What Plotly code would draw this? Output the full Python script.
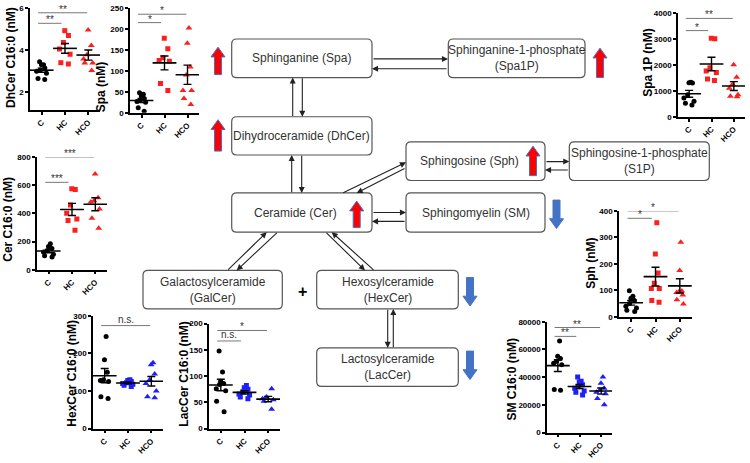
import numpy as np
import plotly.graph_objects as go

W, H = 750, 463
FONT = "Liberation Sans, Arial, sans-serif"
GROUPS = ["C", "HC", "HCO"]

# ── values (nM) ─────────────────────────────────────────────────────────────
dhcer_c   = [3.45, 3.3, 3.3, 3.15, 3.05, 3.0, 2.9, 2.65, 2.6]
dhcer_hc  = [4.92, 4.69, 4.36, 4.05, 3.8, 3.4, 3.34]
dhcer_hco = [4.95, 4.22, 3.78, 3.58, 3.39, 3.39, 3.03]

spa_c   = [48, 44, 40, 34, 30, 27, 25, 12, 4]
spa_hc  = [178, 153, 131, 125, 123, 70, 53]
spa_hco = [202, 166, 109, 90, 53, 53, 34, 20]

spa1p_c   = [1330, 1310, 1300, 850, 720, 600, 520, 450]
spa1p_hc  = [3020, 3000, 1890, 1760, 1700, 1450, 1400]
spa1p_hco = [2000, 1520, 1250, 1100, 850, 790, 770]

cer_c   = [185, 165, 150, 135, 125, 110, 100, 90]
cer_hc  = [575, 570, 460, 400, 360, 350, 280]
cer_hco = [680, 510, 490, 480, 430, 365, 295]

sph_c   = [98, 78, 70, 62, 50, 40, 33, 25, 20]
sph_hc  = [355, 237, 165, 127, 107, 107, 62, 55]
sph_hco = [282, 175, 97, 95, 92, 82, 64, 48]

hexcer_c   = [245, 183, 150, 130, 128, 125, 85, 80]
hexcer_hc  = [130, 128, 125, 122, 120, 118, 115, 112]
hexcer_hco = [175, 170, 145, 130, 120, 100, 85, 82]

laccer_c   = [148, 108, 90, 86, 84, 76, 72, 52, 32]
laccer_hc  = [82, 78, 75, 70, 66, 64, 60, 57]
laccer_hco = [76, 60, 57, 55, 52, 37]

sm_c   = [66000, 55000, 53500, 51500, 50000, 49000, 31000, 30500]
sm_hc  = [40000, 37000, 36500, 34500, 33000, 32000, 30000, 29000, 27000]
sm_hco = [40000, 35500, 32000, 30500, 29000, 28000, 24500, 20000]

# significance brackets: label, bracket height, group compared with C
dhcer_sig  = (["**", "**"], [5.27, 5.77], ["HC", "HCO"])
spa_sig    = (["*", "*"], [215, 235], ["HC", "HCO"])
spa1p_sig  = (["*", "**"], [3316, 3785], ["HC", "HCO"])
cer_sig    = (["***", "***"], [620, 800], ["HC", "HCO"])
sph_sig    = (["*", "*"], [372, 400], ["HC", "HCO"])
hexcer_sig = (["n.s."], [274], ["HCO"])
laccer_sig = (["n.s.", "*"], [167, 187], ["HC", "HCO"])
sm_sig     = (["**", "**"], [69400, 75800], ["HC", "HCO"])


def px(x):
    return x / W


def py(y):
    return 1 - y / H


# ── panel placement (pixels: left, right, top, bottom) ───────────────────────
RED, BLUE = "#ff1e1e", "#1e1eff"
panels = [
    dict(vals=(dhcer_c, dhcer_hc, dhcer_hco), sig=dhcer_sig, col=RED,
         box=(30, 100, 4, 108), yr=(1.16, 6), tv=[2, 4, 6],
         title="DhCer C16:0 (nM)", tpos=(11, 55)),
    dict(vals=(spa_c, spa_hc, spa_hco), sig=spa_sig, col=RED,
         box=(130, 199, 4, 111), yr=(0, 250), tv=[0, 50, 100, 150, 200, 250],
         title="Spa (nM)", tpos=(101, 84)),
    dict(vals=(spa1p_c, spa1p_hc, spa1p_hco), sig=spa1p_sig, col=RED,
         box=(678, 745, 9, 115), yr=(0, 4000), tv=[0, 1000, 2000, 3000, 4000],
         title="Spa 1P (nM)", tpos=(648, 60)),
    dict(vals=(cer_c, cer_hc, cer_hco), sig=cer_sig, col=RED,
         box=(37, 107, 156, 271), yr=(0, 800), tv=[0, 200, 400, 600, 800],
         title="Cer C16:0 (nM)", tpos=(8, 220)),
    dict(vals=(sph_c, sph_hc, sph_hco), sig=sph_sig, col=RED,
         box=(619, 692, 211, 319), yr=(0, 400), tv=[0, 100, 200, 300, 400],
         title="Sph (nM)", tpos=(591, 265)),
    dict(vals=(hexcer_c, hexcer_hc, hexcer_hco), sig=hexcer_sig, col=BLUE,
         box=(93, 163, 318, 433), yr=(0, 300), tv=[0, 100, 200, 300],
         title="HexCer C16:0 (nM)", tpos=(72, 377)),
    dict(vals=(laccer_c, laccer_hc, laccer_hco), sig=laccer_sig, col=BLUE,
         box=(209, 280, 326, 433), yr=(0, 200), tv=[0, 50, 100, 150, 200],
         title="LacCer C16:0 (nM)", tpos=(184, 378)),
    dict(vals=(sm_c, sm_hc, sm_hco), sig=sm_sig, col=BLUE,
         box=(547, 612, 324, 437), yr=(0, 80000), tv=[0, 20000, 40000, 60000, 80000],
         title="SM C16:0 (nM)", tpos=(512, 383)),
]

fig = go.Figure()
axis_style = dict(showline=True, linecolor="black", linewidth=1.5, ticks="outside",
                  ticklen=3, tickwidth=1.5, tickcolor="black", showgrid=False,
                  zeroline=False, tickfont=dict(family=FONT, size=8, color="black", weight="bold"))

for i, p in enumerate(panels, start=1):
    xr = "x" if i == 1 else f"x{i}"
    yr = "y" if i == 1 else f"y{i}"
    l, r, t, b = p["box"]
    fig.layout["xaxis" if i == 1 else f"xaxis{i}"] = dict(
        domain=[px(l), px(r)], anchor=yr, type="category", categoryorder="array",
        categoryarray=GROUPS, range=[-0.5, 2.5], tickangle=-45, **axis_style)
    fig.layout["yaxis" if i == 1 else f"yaxis{i}"] = dict(
        domain=[py(b), py(t)], anchor=xr, range=list(p["yr"]), tickvals=p["tv"],
        tickformat="d", **axis_style)

    looks = [("circle", "black", 5), ("square", p["col"], 5), ("triangle-up", p["col"], 6)]
    for g, vals, (sym, col, size) in zip(GROUPS, p["vals"], looks):
        v = np.array(vals, dtype=float)
        fig.add_trace(go.Box(
            x=[g] * len(v), y=v, xaxis=xr, yaxis=yr, boxpoints="all", jitter=0.7,
            pointpos=0, width=0.8, line=dict(width=0), fillcolor="rgba(0,0,0,0)",
            marker=dict(symbol=sym, color=col, size=size), hoverinfo="skip",
        ))
        sem = v.std(ddof=1) / np.sqrt(len(v))
        fig.add_trace(go.Scatter(
            x=[g], y=[v.mean()], xaxis=xr, yaxis=yr, mode="markers",
            marker=dict(symbol="line-ew", size=17, line=dict(width=1.6, color="black")),
            error_y=dict(type="data", array=[sem], width=4, thickness=1.4, color="black"),
            hoverinfo="skip",
        ))

    labels, heights, targets = p["sig"]
    for lab, h, tg in zip(labels, heights, targets):
        x1 = 0.85 if tg == "HC" else 1.95
        fig.add_shape(type="line", xref=xr, yref=yr, x0=-0.15, x1=x1, y0=h, y1=h,
                      line=dict(color="#777777", width=1))
        fig.add_annotation(x=(x1 - 0.15) / 2, y=h, xref=xr, yref=yr, text=lab,
                           showarrow=False, xanchor="center", yanchor="bottom",
                           yshift=-4 if "*" in lab else -1,
                           font=dict(family=FONT, size=10, color="#333333"))

    fig.add_annotation(x=px(p["tpos"][0]), y=py(p["tpos"][1]), xref="paper", yref="paper",
                       text=p["title"], textangle=-90, showarrow=False,
                       xanchor="center", yanchor="middle",
                       font=dict(family=FONT, size=12, color="black", weight="bold"))

# ── pathway diagram ──────────────────────────────────────────────────────────
nodes = [
    (231.7, 35.7, 372, 75, "Sphinganine (Spa)"),
    (448.3, 35.7, 585, 75, "Sphinganine-1-phosphate<br>(Spa1P)"),
    (231.7, 115, 372, 154, "Dihydroceramide (DhCer)"),
    (406, 140.7, 545, 180, "Sphingosine (Sph)    "),
    (569.3, 140.7, 709.3, 180, "Sphingosine-1-phosphate<br>(S1P)"),
    (231.7, 192.7, 372, 232.7, "Ceramide (Cer)    "),
    (406, 192.7, 545, 232.7, "Sphingomyelin (SM)"),
    (143, 271.7, 282.3, 311, "Galactosylceramide<br>(GalCer)"),
    (316.7, 271.7, 458.3, 311, "Hexosylceramide<br>(HexCer)"),
    (316.7, 350.7, 458.3, 390, "Lactosylceramide<br>(LacCer)"),
]


def rrect(x0, y0, x1, y1, rad=5):
    pts = (f"M {px(x0 + rad)},{py(y0)} L {px(x1 - rad)},{py(y0)} "
           f"Q {px(x1)},{py(y0)} {px(x1)},{py(y0 + rad)} L {px(x1)},{py(y1 - rad)} "
           f"Q {px(x1)},{py(y1)} {px(x1 - rad)},{py(y1)} L {px(x0 + rad)},{py(y1)} "
           f"Q {px(x0)},{py(y1)} {px(x0)},{py(y1 - rad)} L {px(x0)},{py(y0 + rad)} "
           f"Q {px(x0)},{py(y0)} {px(x0 + rad)},{py(y0)} Z")
    return pts


for x0, y0, x1, y1, txt in nodes:
    fig.add_shape(type="path", path=rrect(x0, y0, x1, y1), xref="paper", yref="paper",
                  line=dict(color="#555555", width=1.2), fillcolor="white")
    fig.add_annotation(x=px((x0 + x1) / 2), y=py((y0 + y1) / 2), xref="paper", yref="paper",
                       text=txt, showarrow=False, xanchor="center", yanchor="middle",
                       font=dict(family=FONT, size=12, color="#333333"))

fig.add_annotation(x=px(302.7), y=py(292.7), xref="paper", yref="paper", text="+",
                   showarrow=False, xanchor="center", yanchor="middle",
                   font=dict(family=FONT, size=16, color="black", weight="bold"))

# (tail) -> (head), pixels
links = [
    ((372, 56), (448, 56)), ((448, 66), (372, 66)),
    ((292.7, 115), (292.7, 75)), ((302.3, 75), (302.3, 115)),
    ((291.7, 192.7), (291.7, 154)), ((301.7, 154), (301.7, 192.7)),
    ((341.7, 192.7), (406, 161.5)), ((406, 167.5), (356.7, 192.7)),
    ((545, 160.7), (569.3, 160.7)), ((569.3, 169.3), (545, 169.3)),
    ((372, 212.7), (406, 212.7)), ((406, 221.7), (372, 221.7)),
    ((226.7, 271.7), (266.7, 232.7)), ((278.3, 232.7), (236.7, 271.7)),
    ((325, 232.7), (365, 271.7)), ((375, 271.7), (331.7, 232.7)),
    ((387.7, 311), (387.7, 350.7)), ((393.3, 350.7), (393.3, 311)),
]
for (tx, ty), (hx, hy) in links:
    fig.add_annotation(x=px(hx), y=py(hy), xref="paper", yref="paper", text="",
                       showarrow=True, ax=tx - hx, ay=ty - hy, arrowhead=2,
                       arrowsize=1.1, arrowwidth=1.1, arrowcolor="#222222", standoff=0)


def block_arrow(cx, y_top, y_bot, up=True, w=14, sw=7, hh=10):
    if up:
        pts = [(cx, y_top), (cx + w / 2, y_top + hh), (cx + sw / 2, y_top + hh),
               (cx + sw / 2, y_bot), (cx - sw / 2, y_bot), (cx - sw / 2, y_top + hh),
               (cx - w / 2, y_top + hh)]
    else:
        pts = [(cx, y_bot), (cx + w / 2, y_bot - hh), (cx + sw / 2, y_bot - hh),
               (cx + sw / 2, y_top), (cx - sw / 2, y_top), (cx - sw / 2, y_bot - hh),
               (cx - w / 2, y_bot - hh)]
    return "M " + " L ".join(f"{px(a)},{py(b)}" for a, b in pts) + " Z"


for cx, y0, y1 in [(218, 44, 72), (218, 118, 150), (600, 45, 75), (533, 145, 175),
                   (356.7, 201, 228)]:
    fig.add_shape(type="path", path=block_arrow(cx, y0, y1, True), xref="paper",
                  yref="paper", fillcolor="#ff0000", line=dict(color="#4a6fc0", width=1))
for cx, y0, y1 in [(556.5, 200, 229), (470, 279, 308), (470, 354, 383)]:
    fig.add_shape(type="path", path=block_arrow(cx, y0, y1, False), xref="paper",
                  yref="paper", fillcolor="#4472c4", line=dict(color="#4472c4", width=1))

fig.update_layout(
    width=W, height=H, margin=dict(l=0, r=0, t=0, b=0),
    paper_bgcolor="white", plot_bgcolor="rgba(0,0,0,0)",
    showlegend=False, boxmode="overlay",
    font=dict(family=FONT),
)

fig.write_html("out.html", config={"displayModeBar": False},
               post_script="document.body.style.margin='0';")
